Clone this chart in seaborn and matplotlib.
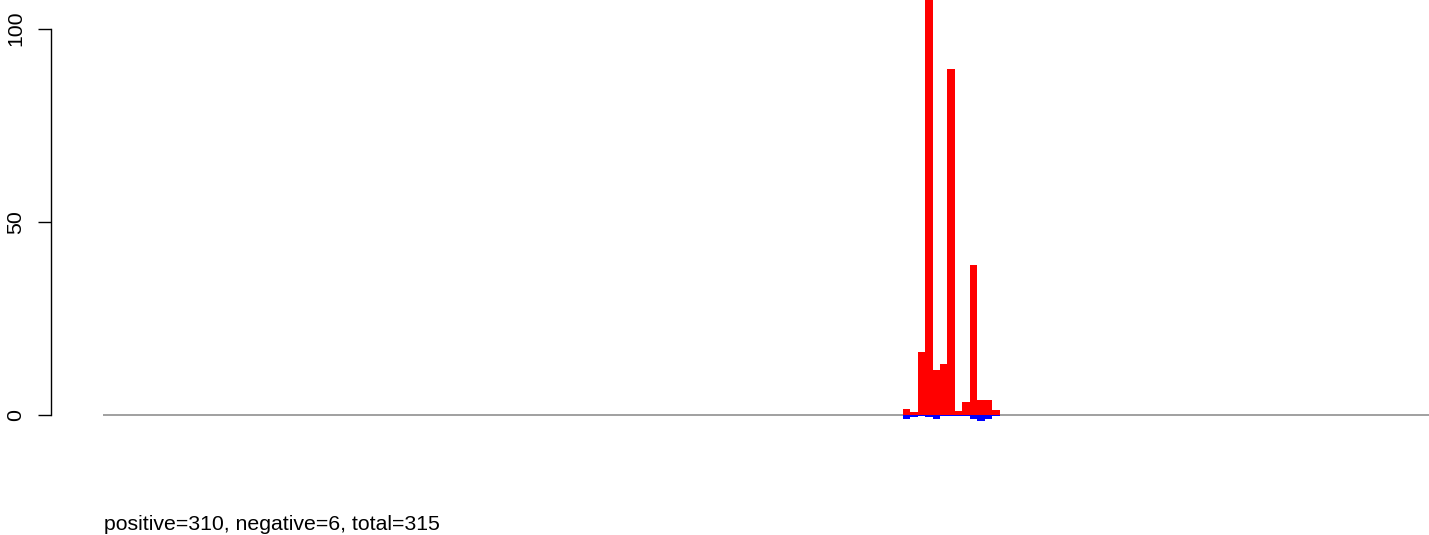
import matplotlib
matplotlib.use('Agg')
import matplotlib.pyplot as plt
import seaborn as sns
import pandas as pd

# значения столбиков (позиции бинов и высоты)
positions = [108, 109, 110, 111, 112, 113, 114, 115, 116, 117, 118, 119, 120]
pos_vals = [1.7, 0.9, 16.4, 123.0, 11.8, 13.3, 89.5, 1.2, 3.5, 38.9, 4.0, 4.0, 1.4]
neg_vals = [-1.0, -0.5, -0.2, -0.5, -0.8, -0.2, -0.2, -0.2, -0.2, -0.8, -1.5, -1.0, -0.2]
y_ticks = [0, 50, 100]
caption = 'positive=310, negative=6, total=315'

df = pd.DataFrame({'pos': positions, 'up': pos_vals, 'down': neg_vals})

sns.set_theme(style='white')
plt.rcParams['font.family'] = ['Liberation Sans', 'DejaVu Sans']

fig = plt.figure(figsize=(14.29, 5.35), dpi=100)
ax = fig.add_axes([103 / 1429, 1 - 470 / 535, 1 - 103 / 1429, 470 / 535])

ax.axhline(0, color='#999999', linewidth=1.3, zorder=0)

sns.barplot(data=df, x='pos', y='up', native_scale=True, orient='x', width=1.0,
            color='#ff0000', saturation=1, linewidth=0, errorbar=None, ax=ax)
sns.barplot(data=df, x='pos', y='down', native_scale=True, orient='x', width=1.0,
            color='#0000ff', saturation=1, linewidth=0, errorbar=None, ax=ax)

ax.set_xlim(0.3, 178.05)
ax.set_ylim(-14.1, 107.4)
ax.set_xticks([])
ax.set_xlabel('')
ax.set_ylabel('')

# ось Y как в R: смещена влево
for s in ['top', 'right', 'bottom']:
    ax.spines[s].set_visible(False)
ax.spines['left'].set_position(('outward', 37.4))
ax.spines['left'].set_bounds(0, 100)
ax.spines['left'].set_color('black')
ax.spines['left'].set_linewidth(1.0)
ax.set_yticks(y_ticks)
ax.set_yticklabels([str(t) for t in y_ticks], rotation=90, va='center', fontsize=15.3)
ax.tick_params(axis='y', left=True, length=9.4, width=1.0, color='black',
               pad=9, labelcolor='black')
ax.grid(False)

fig.text(104 / 1429, 5 / 535, caption, fontsize=15.3, color='black',
         ha='left', va='baseline')

fig.savefig('out.png', dpi=100)
